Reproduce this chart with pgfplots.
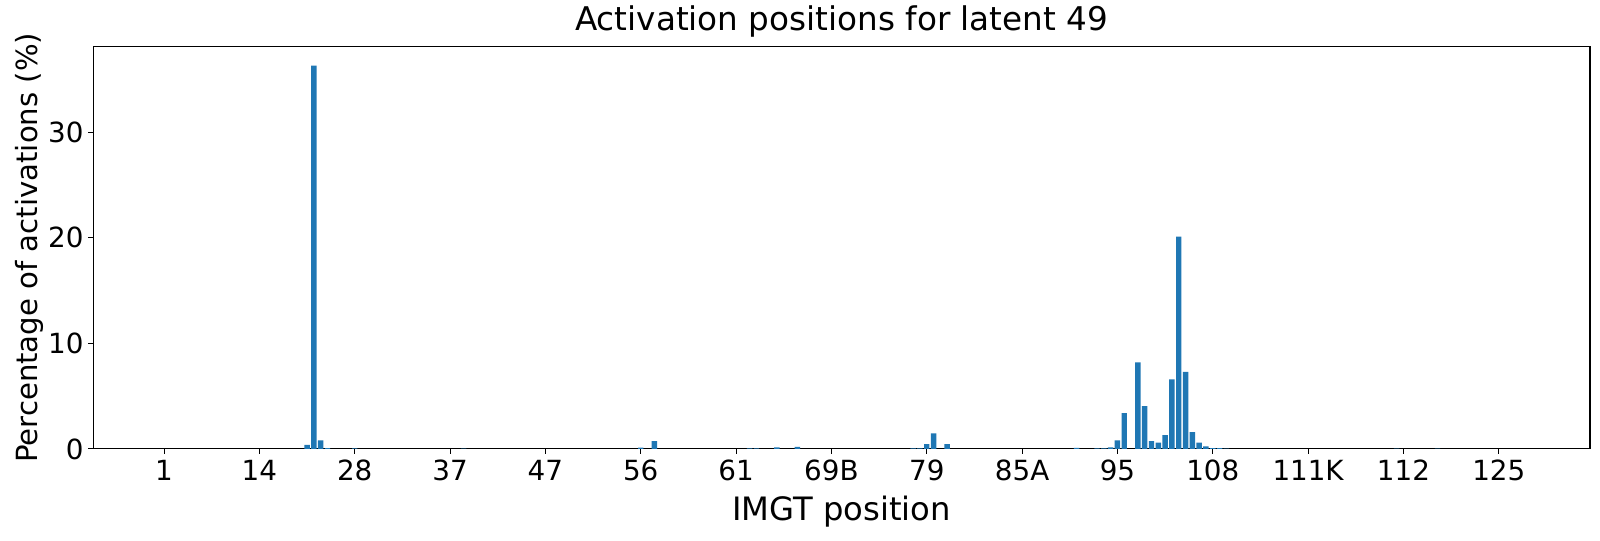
\documentclass[border=0pt]{standalone}
\usepackage{fontspec}
\setmainfont{DejaVu Sans}
\usepackage{pgfplots}
\pgfplotsset{compat=1.18}
\definecolor{mplblue}{HTML}{1F77B4}
\begin{document}
\begin{tikzpicture}
\begin{axis}[
  at={(0,0)}, anchor=south west,
  scale only axis, width=1077.8pt, height=289.8pt,
  xmin=-10.39, xmax=209.39, ymin=0, ymax=38.115,
  axis line style={line width=0.8pt},
  xtick={0,14,...,196},
  xticklabels={1,14,28,37,47,56,61,69B,79,85A,95,108,111K,112,125},
  ytick={0,10,20,30},
  tick align=outside, tick pos=left,
  major tick length=3.5pt,
  tick style={line width=0.8pt, black},
  /pgf/number format/assume math mode=true,
  ticklabel style={font=\fontsize{20}{24}\selectfont},
  xticklabel style={yshift=-1pt},
  xlabel={IMGT position},
  ylabel={Percentage of activations (\%)},
  xlabel style={font=\fontsize{23.2}{28}\selectfont, at={(axis description cs:0.5,-0.1567)}, anchor=center},
  ylabel style={font=\fontsize{21}{25}\selectfont, at={(axis description cs:-0.0430,0.5)}, anchor=center},
  title={Activation positions for latent 49},
  title style={font=\fontsize{23.5}{28}\selectfont, at={(axis description cs:0.5,1.0424)}, anchor=center},
]
\addplot[ybar, bar width=0.8, fill=mplblue, draw=none] coordinates {
(21,0.38) (22,36.3) (23,0.82) (24,0.08) (28,0.06) (44,0.03)
(70,0.12) (72,0.75) (86,0.05) (87,0.05) (90,0.15) (93,0.2)
(110,0.05) (111,0.05) (112,0.45) (113,1.48) (115,0.45)
(134,0.1) (137,0.05) (138,0.05) (139,0.15) (140,0.8) (141,3.4)
(143,8.2) (144,4.05) (145,0.75) (146,0.6) (147,1.3) (148,6.6)
(149,20.1) (150,7.3) (151,1.6) (152,0.6) (153,0.25) (154,0.08)
(155,0.08) (156,0.04) (181,0.02) (187,0.02)
};
\end{axis}
\pgfresetboundingbox
\path[use as bounding box] (-67.2pt,-66.2pt) rectangle (1085.0pt,323.3pt);
\end{tikzpicture}
\end{document}
